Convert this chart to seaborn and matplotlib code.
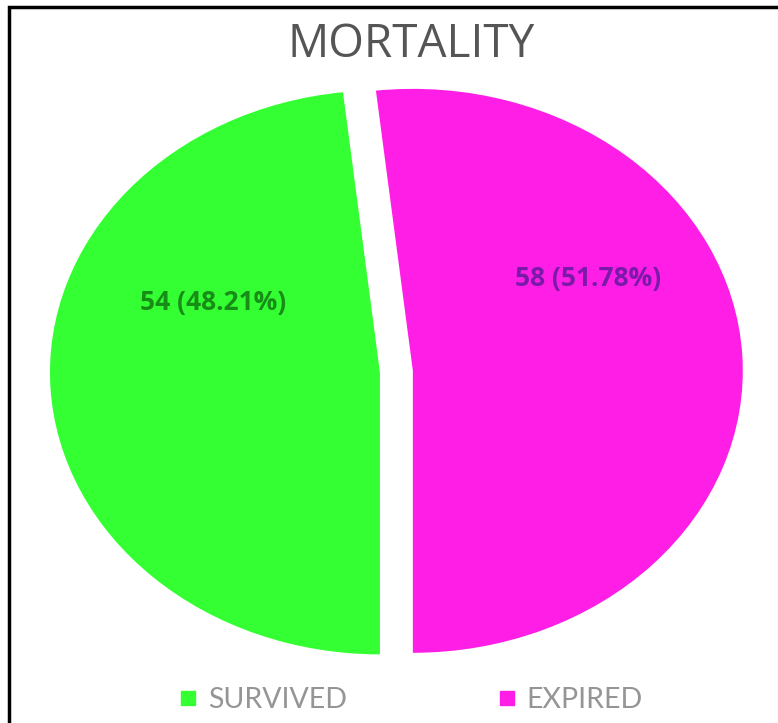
import matplotlib
matplotlib.use("Agg")
import matplotlib.pyplot as plt
import seaborn as sns
from matplotlib.lines import Line2D
from matplotlib.patches import Rectangle

# data
categories = ["SURVIVED", "EXPIRED"]
counts = [54, 58]
pct_labels = ["54 (48.21%)", "58 (51.78%)"]
colors = ["#33ff33", "#ff1ee6"]
label_colors = ["#178c17", "#7a1aa8"]

sns.set_theme(style="white")
plt.rcParams['font.family'] = ['Open Sans', 'DejaVu Sans']

fig = plt.figure(figsize=(7.78, 7.23), dpi=100)
ax = fig.add_axes([0.043, 0.057, 0.933, 0.858])

wedges, _ = ax.pie(counts, colors=colors, explode=[0.05, 0.05],
                   startangle=270, counterclock=False,
                   wedgeprops=dict(linewidth=0))
ax.set_aspect('auto')
ax.set_xlim(-1.1, 1.1)
ax.set_ylim(-1.1, 1.1)

# value labels
ax.text(-0.556, 0.245, pct_labels[0], ha='center', va='center',
        fontsize=19, fontweight='bold', color=label_colors[0])
ax.text(0.58, 0.33, pct_labels[1], ha='center', va='center',
        fontsize=19, fontweight='bold', color=label_colors[1])

fig.text(0.528, 0.938, "MORTALITY", ha='center', va='center',
         fontsize=33, color='#555555')

handles = [Line2D([], [], marker='s', linestyle='', markersize=10.5,
                  color=c) for c in colors]
leg = fig.legend(handles, categories, loc='center', ncol=2,
                 bbox_to_anchor=(0.527, 0.032), frameon=False,
                 prop=dict(family='Lato', size=20.5),
                 columnspacing=5.2, handletextpad=0.3, handlelength=0.8)
for t in leg.get_texts():
    t.set_color('#959595')

# border (top and left visible)
fig.add_artist(Rectangle((0.011, -0.1), 1.2, 1.091, transform=fig.transFigure,
                         fill=False, edgecolor='black', linewidth=2.5))

fig.savefig("out.png", dpi=100)
